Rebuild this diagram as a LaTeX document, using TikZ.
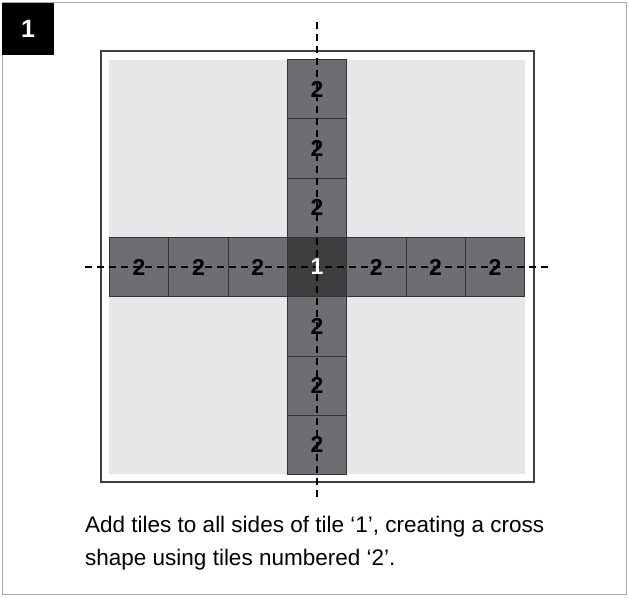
\documentclass[tikz,border=0pt]{standalone}
\usepackage{fontspec}
\setmainfont{Liberation Sans}
\definecolor{tilegray}{HTML}{6D6E71}
\definecolor{centergray}{HTML}{3E3E40}
\definecolor{fieldgray}{HTML}{E6E7E8}
\definecolor{framegray}{HTML}{A7A9AC}
\tikzset{
  tile/.style={draw=black!80, line width=0.8pt, fill=tilegray, minimum width=59.3pt, minimum height=59.3pt, inner sep=0pt},
  centertile/.style={tile, fill=centergray},
  tilenum/.style={inner sep=0pt, font=\fontsize{23}{23}\selectfont\bfseries},
  axis/.style={line width=1.8pt, dash pattern=on 7pt off 5pt},
  captxt/.style={anchor=base west, inner sep=0pt, font=\fontsize{22.5}{33}\selectfont},
}
\begin{document}
\begin{tikzpicture}[x=1pt,y=-1pt]
\useasboundingbox (0,0) rectangle (629,597);
\fill[white] (0,0) rectangle (629,597);
\draw[framegray, line width=1.2pt] (2.5,2.5) rectangle (626.5,594.5);
\node[fill=black, minimum width=52pt, minimum height=52pt, inner sep=0pt, text=white, font=\fontsize{25}{25}\selectfont\bfseries] (badge) at (28,29) {1};
\draw[black!75, line width=2pt] (101,51) rectangle (534,482);
\fill[fieldgray] (109,60) rectangle (525,474);
% tiles
\node[centertile] (c) at (317,267) {};
\node[tile] (l1) at (257.7,267) {};
\node[tile] (l2) at (198.4,267) {};
\node[tile] (l3) at (139.1,267) {};
\node[tile] (r1) at (376.3,267) {};
\node[tile] (r2) at (435.6,267) {};
\node[tile] (r3) at (494.9,267) {};
\node[tile] (u1) at (317,207.7) {};
\node[tile] (u2) at (317,148.4) {};
\node[tile] (u3) at (317,89.1) {};
\node[tile] (d1) at (317,326.3) {};
\node[tile] (d2) at (317,385.6) {};
\node[tile] (d3) at (317,444.9) {};
\coordinate (vtop) at (317,22);
\coordinate (vbot) at (317,500);
\coordinate (hl) at (85,267);
\coordinate (hr) at (548,267);
\draw[axis] (vtop) -- (vbot);
\draw[axis] (hl) -- (hr);
% numbers on top
\node[tilenum, text=white] (nc) at (c) {1};
\foreach \t in {l1,l2,l3,r1,r2,r3,u1,u2,u3,d1,d2,d3}
  \node[tilenum] (n\t) at (\t) {2};
\node[captxt] (cap1) at (85,532) {Add tiles to all sides of tile ‘1’, creating a cross};
\node[captxt] (cap2) at (85,565) {shape using tiles numbered ‘2’.};
\end{tikzpicture}
\end{document}
